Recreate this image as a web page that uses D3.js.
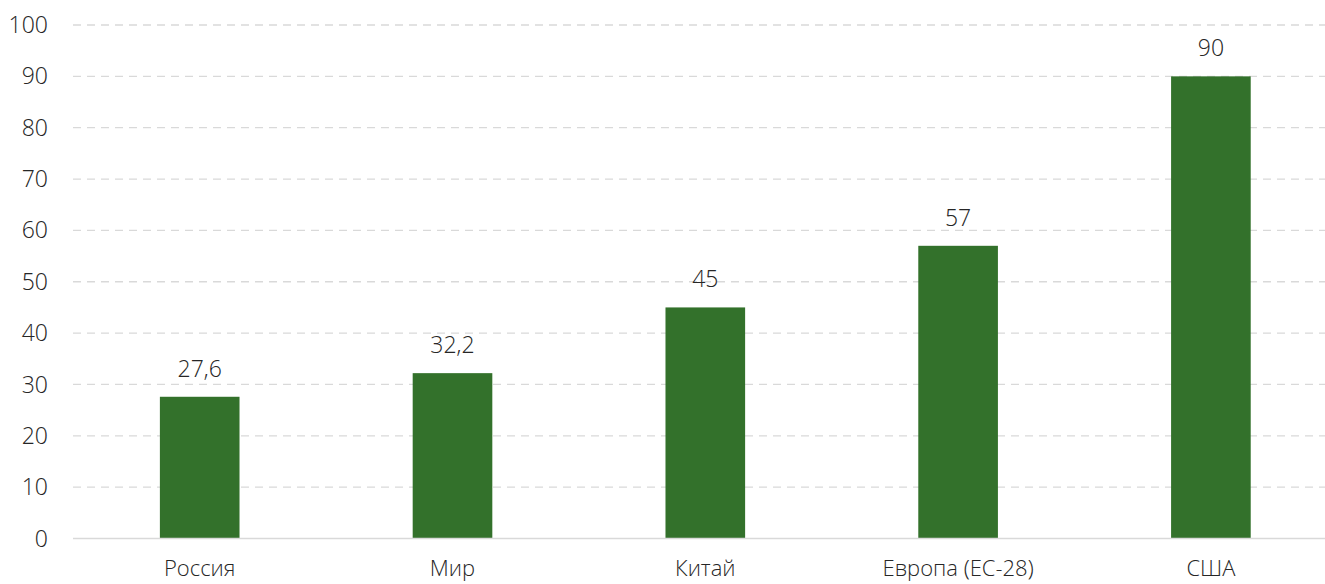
<!DOCTYPE html>
<html>
<head>
<meta charset="utf-8">
<script src="https://cdn.jsdelivr.net/npm/d3@7"></script>
<style>
  body { margin: 0; background: #fff; }
  text { font-family: "Open Sans Light", "Open Sans", "Noto Sans", sans-serif; font-weight: 300; fill: #262626; }
</style>
</head>
<body>
<script>
// Chart data
const categories = ["Россия", "Мир", "Китай", "Европа (ЕС-28)", "США"];
const values = [27.6, 32.2, 45, 57, 90];
const yTicks = [0, 10, 20, 30, 40, 50, 60, 70, 80, 90, 100];

const width = 1325;
const height = 584;

const svg = d3.select("body")
  .append("svg")
  .attr("width", width)
  .attr("height", height);

// Scales (plot runs slightly past the right edge, like the cropped original)
const x = d3.scaleBand()
  .domain(categories)
  .range([73.3, 1337.3])
  .paddingInner(0.685)
  .paddingOuter(0.3425);

const y = d3.scaleLinear()
  .domain([0, 100])
  .range([538.5, 25]);

// Dashed gridlines
svg.append("g")
  .selectAll("line")
  .data(yTicks.filter(d => d > 0))
  .join("line")
  .attr("x1", 73)
  .attr("x2", width)
  .attr("y1", d => y(d))
  .attr("y2", d => y(d))
  .attr("stroke", "#d9d9d9")
  .attr("stroke-width", 1.3)
  .attr("stroke-dasharray", "8,6");

// Y tick labels
svg.append("g")
  .selectAll("text")
  .data(yTicks)
  .join("text")
  .attr("x", 48)
  .attr("y", d => y(d))
  .attr("dy", "0.35em")
  .attr("text-anchor", "end")
  .style("font-size", "23px")
  .text(d => d);

// Bars
svg.append("g")
  .selectAll("rect")
  .data(values)
  .join("rect")
  .attr("x", (d, i) => x(categories[i]))
  .attr("width", x.bandwidth())
  .attr("y", d => y(d))
  .attr("height", d => y(0) - y(d))
  .attr("fill", "#33712b");

// Baseline
svg.append("line")
  .attr("x1", 73)
  .attr("x2", width)
  .attr("y1", y(0))
  .attr("y2", y(0))
  .attr("stroke", "#d9d9d9")
  .attr("stroke-width", 1.5);

// Value labels
svg.append("g")
  .selectAll("text")
  .data(values)
  .join("text")
  .attr("x", (d, i) => x(categories[i]) + x.bandwidth() / 2)
  .attr("y", d => y(d) - 20)
  .attr("text-anchor", "middle")
  .style("font-size", "23px")
  .text(d => String(d).replace(".", ","));

// Category labels
svg.append("g")
  .selectAll("text")
  .data(categories)
  .join("text")
  .attr("x", d => x(d) + x.bandwidth() / 2)
  .attr("y", 576)
  .attr("text-anchor", "middle")
  .style("font-size", "22px")
  .text(d => d);
</script>
</body>
</html>
